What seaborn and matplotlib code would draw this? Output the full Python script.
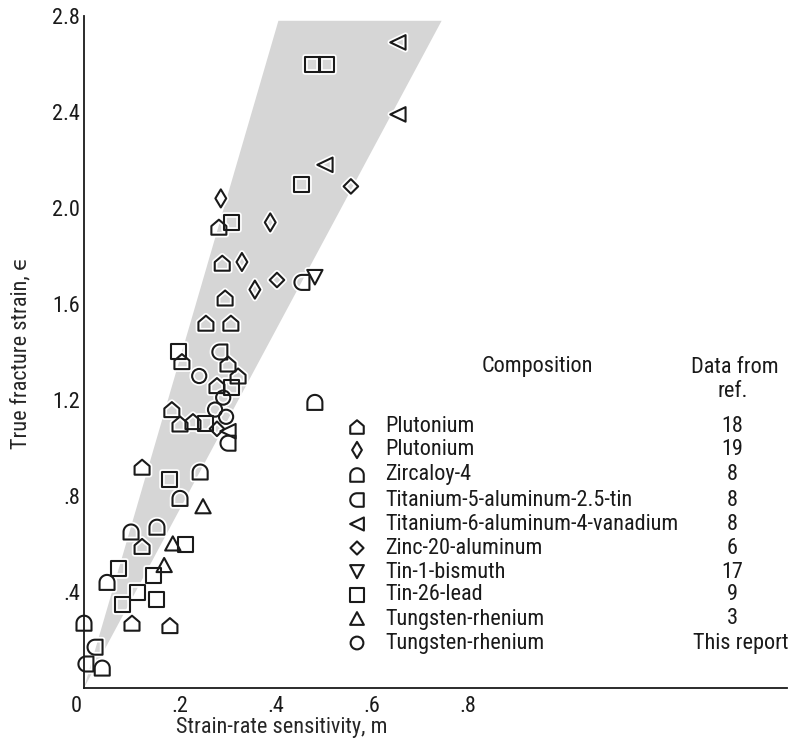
import numpy as np
import pandas as pd
import matplotlib
matplotlib.use("Agg")
import matplotlib.pyplot as plt
from matplotlib.path import Path
from matplotlib import font_manager
from matplotlib.transforms import ScaledTranslation
import seaborn as sns

# ---------------------------------------------------------------------------
# Data: strain-rate sensitivity m  vs  true fracture strain epsilon
# ---------------------------------------------------------------------------
pu18_m   = [0.281, 0.288, 0.294, 0.254, 0.306, 0.204, 0.300, 0.321, 0.277, 0.183,
            0.200, 0.227, 0.121, 0.121, 0.100, 0.179]
pu18_eps = [1.92, 1.77, 1.625, 1.52, 1.52, 1.36, 1.35, 1.30, 1.26, 1.16,
            1.10, 1.11, 0.92, 0.59, 0.27, 0.26]

pu19_m   = [0.285, 0.388, 0.329, 0.356]
pu19_eps = [2.04, 1.94, 1.775, 1.66]

zirc_m   = [0.481, 0.242, 0.200, 0.152, 0.098, 0.048, 0.000, 0.038]
zirc_eps = [1.19, 0.90, 0.79, 0.67, 0.65, 0.44, 0.27, 0.083]

ti5_m    = [0.454, 0.283, 0.300, 0.023, 0.004]
ti5_eps  = [1.69, 1.40, 1.02, 0.17, 0.10]

ti6_m    = [0.654, 0.654, 0.502, 0.300]
ti6_eps  = [2.69, 2.39, 2.18, 1.07]

zn_m     = [0.556, 0.402, 0.277]
zn_eps   = [2.09, 1.70, 1.08]

snbi_m   = [0.481]
snbi_eps = [1.71]

snpb_m   = [0.477, 0.506, 0.454, 0.308, 0.196, 0.308, 0.254, 0.179, 0.212,
            0.071, 0.144, 0.112, 0.081, 0.150]
snpb_eps = [2.60, 2.60, 2.10, 1.94, 1.40, 1.25, 1.10, 0.87, 0.60,
            0.50, 0.47, 0.40, 0.35, 0.37]

wre3_m   = [0.248, 0.185, 0.167]
wre3_eps = [0.755, 0.60, 0.51]

wre_m    = [0.240, 0.290, 0.273, 0.296]
wre_eps  = [1.30, 1.21, 1.16, 1.13]

# scatter band
band_m   = [0.0, 0.405, 0.745]
band_eps = [0.0, 2.78, 2.78]

compositions = ["Plutonium", "Plutonium", "Zircaloy-4",
                "Titanium-5-aluminum-2.5-tin",
                "Titanium-6-aluminum-4-vanadium", "Zinc-20-aluminum",
                "Tin-1-bismuth", "Tin-26-lead", "Tungsten-rhenium",
                "Tungsten-rhenium"]
references = ["18", "19", "8", "8", "8", "6", "17", "9", "3", "This report"]

x_ticks = [0.0, 0.2, 0.4, 0.6, 0.8]
x_tick_labels = ["0", ".2", ".4", ".6", ".8"]
y_ticks = [0.4, 0.8, 1.2, 1.6, 2.0, 2.4, 2.8]
y_tick_labels = [".4", ".8", "1.2", "1.6", "2.0", "2.4", "2.8"]

series_m = [pu18_m, pu19_m, zirc_m, ti5_m, ti6_m, zn_m, snbi_m, snpb_m,
            wre3_m, wre_m]
series_eps = [pu18_eps, pu19_eps, zirc_eps, ti5_eps, ti6_eps, zn_eps,
              snbi_eps, snpb_eps, wre3_eps, wre_eps]

frames = []
for i, (m, e) in enumerate(zip(series_m, series_eps)):
    frames.append(pd.DataFrame({"m": m, "eps": e, "group": i}))
df = pd.concat(frames, ignore_index=True)


# ---------------------------------------------------------------------------
# Marker shapes
# ---------------------------------------------------------------------------
def closed(verts):
    verts = [tuple(v) for v in verts]
    verts = verts + [verts[0]]
    codes = [Path.MOVETO] + [Path.LINETO] * (len(verts) - 2) + [Path.CLOSEPOLY]
    return Path(verts, codes)


t = np.linspace(0, np.pi, 31)
house = closed([(-1, -1), (1, -1), (1, 0.15), (0, 1), (-1, 0.15)])
arch = closed([(-1, -1), (1, -1)] + list(zip(np.cos(t), np.sin(t))))
left_arch = closed([(1, -1), (1, 1)] + list(zip(-np.sin(t), np.cos(t))))
thin_diamond = closed([(0, -1), (0.6, 0), (0, 1), (-0.6, 0)])
diamond = closed([(0, -1), (1, 0), (0, 1), (-1, 0)])
tri_left = closed([(-1, 0), (1, 0.95), (1, -0.95)])
tri_down = closed([(0, -0.9), (1, 1), (-1, 1)])
square = closed([(-1, -1), (1, -1), (1, 1), (-1, 1)])
tri_up = closed([(0, 1), (1, -0.85), (-1, -0.85)])
circle = Path.unit_circle()

marker_paths = [house, thin_diamond, arch, left_arch, tri_left, diamond,
                tri_down, square, tri_up, circle]
marker_pts = [10.8, 13.0, 10.8, 10.8, 11.0, 10.5, 11.0, 10.8, 11.0, 10.2]

# ---------------------------------------------------------------------------
# Figure
# ---------------------------------------------------------------------------
sns.set_style("white")
wanted = ["Roboto Condensed", "Liberation Sans Narrow", "DejaVu Sans Condensed",
          "Open Sans Condensed", "DejaVu Sans"]
installed = {f.name for f in font_manager.fontManager.ttflist}
families = [f for f in wanted if f in installed] or ["DejaVu Sans"]
plt.rcParams["font.family"] = families
plt.rcParams["text.color"] = "#1a1a1a"

W, H = 791, 742
fig = plt.figure(figsize=(W / 100, H / 100), dpi=100)
x0, x1, ytop, ybot = 84, 787, 16, 688
ax = fig.add_axes([x0 / W, 1 - ybot / H, (x1 - x0) / W, (ybot - ytop) / H])

ax.fill(band_m, band_eps, color="#d6d6d6", lw=0, zorder=1)

for i in range(len(series_m)):
    sub = df[df["group"] == i]
    s = marker_pts[i] ** 2
    # thin white halo under each outline
    sns.scatterplot(data=sub, x="m", y="eps", marker=marker_paths[i], s=s,
                    facecolor="none", edgecolor="white", linewidth=4.0,
                    zorder=2, clip_on=False, legend=False, ax=ax)
for i in range(len(series_m)):
    sub = df[df["group"] == i]
    s = marker_pts[i] ** 2
    sns.scatterplot(data=sub, x="m", y="eps", marker=marker_paths[i], s=s,
                    facecolor="none", edgecolor="#1a1a1a", linewidth=1.5,
                    zorder=3, clip_on=False, legend=False, ax=ax)

fs = 16
ax.set_xlim(0, (x1 - x0) / 480.0)
ax.set_ylim(0, 2.8)
ax.set_xticks(x_ticks)
ax.set_xticklabels(x_tick_labels)
ax.set_yticks(y_ticks)
ax.set_yticklabels(y_tick_labels)
ax.tick_params(axis="x", direction="in", length=15, width=1.2, pad=6,
               labelsize=fs, colors="#1a1a1a")
ax.tick_params(axis="y", direction="in", length=12, width=1.2, pad=3,
               labelsize=fs, colors="#1a1a1a")
# the origin label sits a little left of the corner
zero_lbl = ax.get_xticklabels()[0]
zero_lbl.set_transform(zero_lbl.get_transform() +
                       ScaledTranslation(-0.08, 0, fig.dpi_scale_trans))
for side in ("top", "right"):
    ax.spines[side].set_visible(False)
for side in ("left", "bottom"):
    ax.spines[side].set_linewidth(1.3)
    ax.spines[side].set_color("#1a1a1a")

ax.set_xlabel("Strain-rate sensitivity, m", fontsize=fs, va="center")
ax.xaxis.set_label_coords((282 - x0) / (x1 - x0), (ybot - 727) / (ybot - ytop))
ax.set_ylabel("True fracture strain, \u03f5", fontsize=fs, va="center")
ax.yaxis.set_label_coords((21 - x0) / (x1 - x0), (ybot - 353) / (ybot - ytop))


# ---------------------------------------------------------------------------
# Key
# ---------------------------------------------------------------------------
def axpos(px, py):
    return (px - x0) / (x1 - x0), (ybot - py) / (ybot - ytop)


ax.text(*axpos(537, 367), "Composition", transform=ax.transAxes,
        ha="center", va="center", fontsize=fs)
ax.text(*axpos(735, 368), "Data from", transform=ax.transAxes,
        ha="center", va="center", fontsize=fs)
ax.text(*axpos(733, 392), "ref.", transform=ax.transAxes,
        ha="center", va="center", fontsize=fs)

row_y = [427, 450, 475, 500, 524, 548, 572, 595, 619, 643]
for i, (name, ref) in enumerate(zip(compositions, references)):
    mx, my = axpos(357, row_y[i])
    ax.scatter([mx], [my], marker=marker_paths[i], s=(marker_pts[i] * 0.9) ** 2,
               facecolor="none", edgecolor="#1a1a1a", linewidth=1.5,
               transform=ax.transAxes, clip_on=False, zorder=3)
    ax.text(*axpos(385, row_y[i]), name, transform=ax.transAxes,
            ha="left", va="center", fontsize=fs)
    rx = 741 if ref == "This report" else 732
    ax.text(*axpos(rx, row_y[i]), ref, transform=ax.transAxes,
            ha="center", va="center", fontsize=fs)

fig.savefig("out.png", dpi=100, facecolor="white")
